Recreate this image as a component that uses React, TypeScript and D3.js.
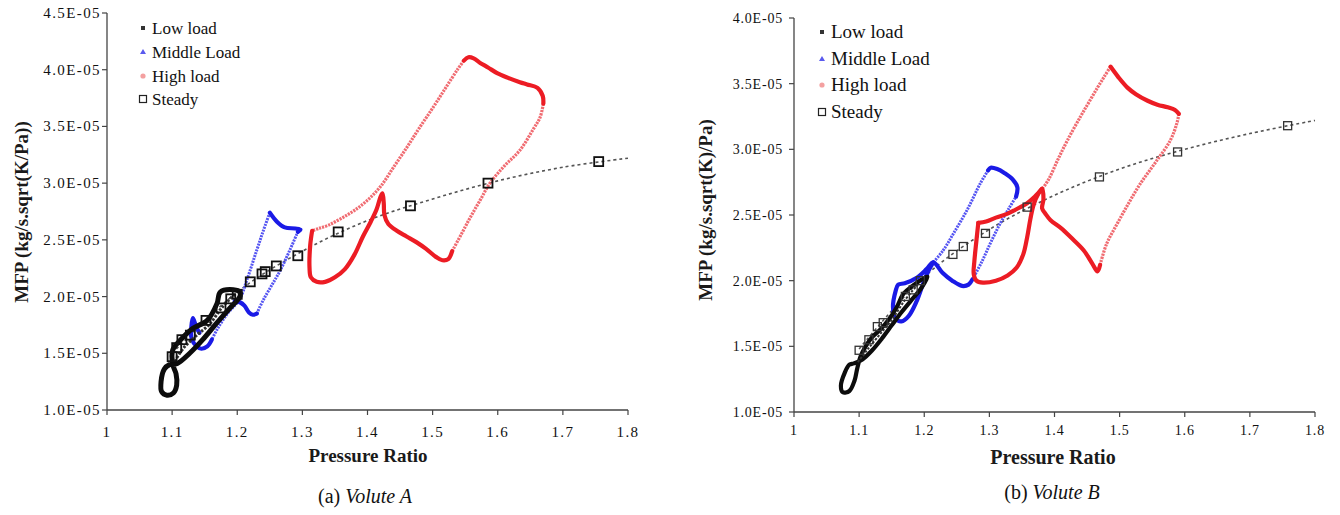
import React from "react";
import * as d3 from "d3";

type P = [number, number];

// ---------- shared axis data ----------
const X_TICKS = [1, 1.1, 1.2, 1.3, 1.4, 1.5, 1.6, 1.7, 1.8];
const Y_TICKS_A = [1.0, 1.5, 2.0, 2.5, 3.0, 3.5, 4.0, 4.5];
const Y_TICKS_B = [1.0, 1.5, 2.0, 2.5, 3.0, 3.5, 4.0];
const LEGEND_LABELS = ["Low load", "Middle Load", "High load", "Steady"];

// ---------- Volute A (MFP in units of 1E-05) ----------
const LOW_A: P[] = [
  [1.088, 1.36], [1.083, 1.25], [1.084, 1.16], [1.092, 1.13], [1.102, 1.15], [1.107, 1.22],
  [1.106, 1.32], [1.101, 1.40], [1.101, 1.53], [1.115, 1.63], [1.132, 1.72], [1.154, 1.79],
  [1.169, 1.94], [1.174, 2.04], [1.194, 2.06], [1.204, 2.04], [1.204, 2.00], [1.189, 1.90],
  [1.169, 1.77], [1.147, 1.62], [1.127, 1.50], [1.108, 1.41], [1.096, 1.40],
];
const LOW_A_INNER: P[] = [
  [1.104, 1.43], [1.118, 1.55], [1.138, 1.66], [1.158, 1.76], [1.176, 1.90], [1.196, 2.02],
];
const MID_A_SOLID_1: P[] = [
  [1.161, 1.62], [1.154, 1.56], [1.145, 1.54], [1.138, 1.56], [1.130, 1.63], [1.132, 1.81], [1.137, 1.73], [1.142, 1.68],
];
const MID_A_SOLID_2: P[] = [
  [1.196, 1.96], [1.204, 1.95], [1.211, 1.92], [1.218, 1.86], [1.224, 1.84], [1.230, 1.85],
];
const MID_A_SPARSE_1: P[] = [
  [1.230, 1.85], [1.240, 1.97], [1.253, 2.10], [1.266, 2.23], [1.280, 2.40], [1.293, 2.57],
];
const MID_A_SOLID_3: P[] = [
  [1.293, 2.57], [1.297, 2.59], [1.289, 2.60], [1.273, 2.61], [1.261, 2.66], [1.250, 2.74],
];
const MID_A_SPARSE_2: P[] = [
  [1.250, 2.74], [1.240, 2.58], [1.230, 2.41], [1.215, 2.15], [1.204, 1.98], [1.185, 1.85], [1.170, 1.72], [1.161, 1.62],
];
const HIGH_A_SOLID_1: P[] = [
  [1.315, 2.58], [1.312, 2.45], [1.311, 2.25], [1.313, 2.17], [1.322, 2.13], [1.335, 2.13], [1.350, 2.17],
  [1.365, 2.24], [1.380, 2.37], [1.393, 2.53], [1.405, 2.66], [1.414, 2.77], [1.420, 2.88], [1.423, 2.91],
  [1.425, 2.82], [1.426, 2.72], [1.432, 2.64], [1.445, 2.58], [1.460, 2.53], [1.475, 2.48], [1.490, 2.42],
  [1.505, 2.35], [1.515, 2.32], [1.524, 2.33], [1.530, 2.40],
];
const HIGH_A_SPARSE_1: P[] = [
  [1.530, 2.40], [1.545, 2.56], [1.558, 2.70], [1.573, 2.85], [1.588, 3.00], [1.610, 3.15], [1.634, 3.29],
  [1.655, 3.48], [1.665, 3.58], [1.670, 3.70],
];
const HIGH_A_SOLID_2: P[] = [
  [1.670, 3.70], [1.669, 3.77], [1.661, 3.84], [1.645, 3.87], [1.634, 3.89], [1.615, 3.93], [1.599, 3.97],
  [1.585, 4.02], [1.573, 4.06], [1.563, 4.10], [1.555, 4.11], [1.548, 4.08],
];
const HIGH_A_SPARSE_2: P[] = [
  [1.548, 4.08], [1.538, 4.00], [1.520, 3.84], [1.501, 3.67], [1.480, 3.49], [1.461, 3.32], [1.440, 3.14],
  [1.420, 2.97], [1.400, 2.85], [1.380, 2.76], [1.360, 2.69], [1.340, 2.63], [1.325, 2.60], [1.315, 2.58],
];
const STEADY_A: P[] = [
  [1.100, 1.47], [1.107, 1.55], [1.115, 1.62], [1.128, 1.66], [1.152, 1.79], [1.175, 1.90], [1.190, 1.98],
  [1.200, 2.02], [1.220, 2.13], [1.238, 2.20], [1.243, 2.22], [1.260, 2.27], [1.293, 2.36], [1.355, 2.57],
  [1.466, 2.80], [1.585, 3.00], [1.755, 3.19],
];
const TREND_A: P[] = [
  [1.10, 1.50], [1.20, 2.04], [1.30, 2.40], [1.40, 2.67], [1.50, 2.86], [1.60, 3.02], [1.70, 3.14], [1.80, 3.22],
];

// ---------- Volute B (MFP in units of 1E-05) ----------
const LOW_B: P[] = [
  [1.085, 1.36], [1.078, 1.30], [1.072, 1.20], [1.075, 1.15], [1.085, 1.16], [1.093, 1.24], [1.097, 1.33],
  [1.102, 1.42], [1.110, 1.50], [1.120, 1.57], [1.133, 1.63], [1.145, 1.70], [1.158, 1.80], [1.168, 1.90],
  [1.182, 1.96], [1.200, 2.02], [1.205, 2.03], [1.195, 1.94], [1.180, 1.85], [1.165, 1.76], [1.150, 1.66],
  [1.135, 1.56], [1.120, 1.47], [1.105, 1.40], [1.092, 1.37],
];
const LOW_B_INNER: P[] = [
  [1.098, 1.38], [1.112, 1.47], [1.130, 1.58], [1.150, 1.70], [1.170, 1.85], [1.190, 1.97],
];
const MID_B_SOLID_1: P[] = [
  [1.214, 2.14], [1.205, 2.06], [1.197, 1.96], [1.188, 1.84], [1.176, 1.73], [1.165, 1.69], [1.156, 1.71],
  [1.152, 1.80], [1.156, 1.92], [1.160, 1.97], [1.170, 1.98], [1.188, 2.02], [1.204, 2.09], [1.214, 2.14],
  [1.228, 2.06], [1.243, 2.00], [1.258, 1.96], [1.268, 1.97], [1.274, 2.01],
];
const MID_B_SPARSE_1: P[] = [
  [1.274, 2.01], [1.288, 2.14], [1.302, 2.29], [1.316, 2.43], [1.330, 2.55], [1.341, 2.64],
];
const MID_B_SOLID_2: P[] = [
  [1.341, 2.64], [1.343, 2.71], [1.336, 2.77], [1.323, 2.82], [1.312, 2.85], [1.302, 2.86], [1.298, 2.84],
];
const MID_B_SPARSE_2: P[] = [
  [1.298, 2.84], [1.286, 2.74], [1.266, 2.54], [1.245, 2.36], [1.229, 2.23], [1.214, 2.14],
];
const HIGH_B_SOLID_1: P[] = [
  [1.283, 2.44], [1.280, 2.30], [1.277, 2.15], [1.276, 2.05], [1.280, 2.00], [1.290, 1.985], [1.310, 2.00],
  [1.328, 2.04], [1.342, 2.10], [1.352, 2.20], [1.358, 2.33], [1.363, 2.47], [1.368, 2.58], [1.375, 2.66],
  [1.381, 2.70], [1.383, 2.62], [1.381, 2.55], [1.386, 2.51], [1.394, 2.46], [1.410, 2.40], [1.425, 2.33],
  [1.445, 2.23], [1.458, 2.13], [1.466, 2.07], [1.470, 2.12],
];
const HIGH_B_SPARSE_1: P[] = [
  [1.470, 2.12], [1.480, 2.28], [1.497, 2.44], [1.515, 2.60], [1.532, 2.74], [1.555, 2.90], [1.578, 3.07],
  [1.588, 3.20], [1.591, 3.27],
];
const HIGH_B_SOLID_2: P[] = [
  [1.591, 3.27], [1.585, 3.30], [1.574, 3.32], [1.558, 3.34], [1.543, 3.37], [1.525, 3.42], [1.512, 3.47],
  [1.498, 3.55], [1.486, 3.63],
];
const HIGH_B_SPARSE_2: P[] = [
  [1.486, 3.63], [1.476, 3.55], [1.466, 3.47], [1.453, 3.36], [1.440, 3.25], [1.420, 3.07], [1.405, 2.92],
  [1.392, 2.78], [1.383, 2.71],
];
const HIGH_B_SOLID_3: P[] = [
  [1.381, 2.70], [1.370, 2.64], [1.358, 2.59], [1.340, 2.54], [1.328, 2.51], [1.310, 2.48], [1.295, 2.45], [1.283, 2.44],
];
const STEADY_B: P[] = [
  [1.100, 1.47], [1.115, 1.55], [1.128, 1.65], [1.137, 1.68], [1.171, 1.88], [1.183, 1.93], [1.194, 2.00],
  [1.244, 2.20], [1.260, 2.26], [1.294, 2.36], [1.358, 2.56], [1.469, 2.79], [1.589, 2.98], [1.758, 3.18],
];
const TREND_B: P[] = [
  [1.10, 1.48], [1.20, 2.03], [1.30, 2.39], [1.40, 2.65], [1.50, 2.85], [1.60, 3.00], [1.70, 3.12], [1.80, 3.22],
];

const SERIF = "'Liberation Serif', 'Times New Roman', serif";
const BLUE = "#1a1ae6";
const BLUE_LIGHT = "#5656f2";
const RED = "#ec1c24";
const RED_LIGHT = "#f06c72";
const BLACK = "#0c0c0c";

type Layout = {
  left: number; right: number; top: number; bottom: number; yMax: number; yTicks: number[];
  tickFont: number; tickSpacing: number; yLabelX: number; xLabelY: number;
  yTitle: string; yTitleX: number; yTitleY: number; titleFont: number;
  xTitleX: number; xTitleY: number; xTitleFont: number;
  caption: string; captionItalic: string; captionX: number; captionY: number;
  legendX: number; legendY: number[]; legendFont: number;
  squareSize: number; squareStroke: string; squareWidth: number; lowWidth: number; innerWidth: number;
};

type Series = {
  low: P[]; lowInner: P[]; solidBlue: P[][]; sparseBlue: P[][]; solidRed: P[][]; sparseRed: P[][]; steady: P[]; trend: P[];
};

function Panel({ L, S }: { L: Layout; S: Series }) {
  const x = d3.scaleLinear().domain([1, 1.8]).range([L.left, L.right]);
  const y = d3.scaleLinear().domain([1, L.yMax]).range([L.bottom, L.top]);
  const open = d3.line<P>().x((d) => x(d[0])).y((d) => y(d[1])).curve(d3.curveCatmullRom.alpha(0.5));
  const closed = d3.line<P>().x((d) => x(d[0])).y((d) => y(d[1])).curve(d3.curveCatmullRomClosed.alpha(0.5));
  const lm = L.legendX;
  const half = L.squareSize / 2;
  return (
    <g>
      {/* axes */}
      <line x1={L.left} x2={L.left} y1={y(L.yMax)} y2={L.bottom} stroke="#444" strokeWidth={1.3} />
      <line x1={L.left} x2={L.right} y1={L.bottom} y2={L.bottom} stroke="#444" strokeWidth={1.3} />
      {L.yTicks.map((t) => (
        <g key={"y" + t}>
          <line x1={L.left - 5} x2={L.left} y1={y(t)} y2={y(t)} stroke="#444" strokeWidth={1.2} />
          <text x={L.yLabelX} y={y(t) + 5} textAnchor="end" fontFamily={SERIF} fontSize={L.tickFont}
            letterSpacing={L.tickSpacing} fill="#111">{t.toFixed(1) + "E-05"}</text>
        </g>
      ))}
      {X_TICKS.map((t) => (
        <g key={"x" + t}>
          <line x1={x(t)} x2={x(t)} y1={L.bottom} y2={L.bottom + 5} stroke="#444" strokeWidth={1.2} />
          <text x={x(t)} y={L.xLabelY} textAnchor="middle" fontFamily={SERIF} fontSize={L.tickFont}
            letterSpacing={L.tickSpacing} fill="#111">{String(+t.toFixed(1))}</text>
        </g>
      ))}
      <text transform={`translate(${L.yTitleX},${L.yTitleY}) rotate(-90)`} textAnchor="middle" fontFamily={SERIF}
        fontWeight="bold" fontSize={L.titleFont} fill="#1a1a1a">{L.yTitle}</text>
      <text x={L.xTitleX} y={L.xTitleY} textAnchor="middle" fontFamily={SERIF} fontWeight="bold"
        fontSize={L.xTitleFont} fill="#1a1a1a">Pressure Ratio</text>
      <text x={L.captionX} y={L.captionY} textAnchor="middle" fontFamily={SERIF} fontSize={20} fill="#111">
        {L.caption}<tspan fontStyle="italic">{L.captionItalic}</tspan>
      </text>

      {/* steady trend */}
      <path d={open(S.trend) || ""} fill="none" stroke="#555" strokeWidth={1.6} strokeDasharray="3 3" />

      {/* middle load */}
      {S.sparseBlue.map((s, i) => (
        <path key={"bs" + i} d={open(s) || ""} fill="none" stroke={BLUE_LIGHT} strokeWidth={3} strokeDasharray="2 1" />
      ))}
      {S.solidBlue.map((s, i) => (
        <path key={"bb" + i} d={open(s) || ""} fill="none" stroke={BLUE} strokeWidth={4.2} strokeLinejoin="round" strokeLinecap="round" />
      ))}
      {/* low load */}
      <path d={closed(S.low) || ""} fill="none" stroke={BLACK} strokeWidth={L.lowWidth} strokeLinejoin="round" />
      <path d={open(S.lowInner) || ""} fill="none" stroke="#333" strokeWidth={L.innerWidth} strokeDasharray="2.5 1.5" />
      {/* high load */}
      {S.sparseRed.map((s, i) => (
        <path key={"rs" + i} d={open(s) || ""} fill="none" stroke={RED_LIGHT} strokeWidth={3.2} strokeDasharray="2.2 1" />
      ))}
      {S.solidRed.map((s, i) => (
        <path key={"rr" + i} d={open(s) || ""} fill="none" stroke={RED} strokeWidth={4.2} strokeLinejoin="round" strokeLinecap="round" />
      ))}
      {/* steady points */}
      {S.steady.map((d, i) => (
        <rect key={"s" + i} x={x(d[0]) - half} y={y(d[1]) - half} width={L.squareSize} height={L.squareSize}
          fill="none" stroke={L.squareStroke} strokeWidth={L.squareWidth} />
      ))}

      {/* legend */}
      {LEGEND_LABELS.map((lab, i) => (
        <text key={"l" + i} x={lm + 9} y={L.legendY[i] + 5.5} fontFamily={SERIF} fontSize={L.legendFont} fill="#111">{lab}</text>
      ))}
      <rect x={lm - 2} y={L.legendY[0] - 2} width={4} height={4} fill="#333" />
      <path d={`M${lm},${L.legendY[1] - 3}L${lm + 3},${L.legendY[1] + 2}L${lm - 3},${L.legendY[1] + 2}Z`} fill="#5a5aee" />
      <circle cx={lm} cy={L.legendY[2]} r={2.6} fill="#f4a0a0" />
      <rect x={lm - 3.5} y={L.legendY[3] - 3.5} width={7} height={7} fill="none" stroke="#222" strokeWidth={1.2} />
    </g>
  );
}

const LAYOUT_A: Layout = {
  left: 107, right: 628, top: 13, bottom: 410, yMax: 4.5, yTicks: Y_TICKS_A,
  tickFont: 15, tickSpacing: 1.4, yLabelX: 101, xLabelY: 437,
  yTitle: "MFP (kg/s.sqrt(K/Pa))", yTitleX: 28, yTitleY: 212, titleFont: 19,
  xTitleX: 368, xTitleY: 462, xTitleFont: 19,
  caption: "(a) ", captionItalic: "Volute A", captionX: 365, captionY: 503,
  legendX: 143, legendY: [28, 52, 76, 99], legendFont: 17,
  squareSize: 9, squareStroke: "#111", squareWidth: 1.8, lowWidth: 5, innerWidth: 3,
};
const LAYOUT_B: Layout = {
  left: 794, right: 1315, top: 18, bottom: 412, yMax: 4.0, yTicks: Y_TICKS_B,
  tickFont: 14, tickSpacing: 0.8, yLabelX: 783, xLabelY: 435,
  yTitle: "MFP (kg/s.sqrt(K)/Pa)", yTitleX: 712, yTitleY: 210, titleFont: 19,
  xTitleX: 1053, xTitleY: 464, xTitleFont: 20,
  caption: "(b) ", captionItalic: "Volute B", captionX: 1052, captionY: 499,
  legendX: 822, legendY: [32, 59, 85, 112], legendFont: 19,
  squareSize: 8, squareStroke: "#333", squareWidth: 1.3, lowWidth: 4.2, innerWidth: 2,
};

const SERIES_A: Series = {
  low: LOW_A, lowInner: LOW_A_INNER,
  solidBlue: [MID_A_SOLID_1, MID_A_SOLID_2, MID_A_SOLID_3],
  sparseBlue: [MID_A_SPARSE_1, MID_A_SPARSE_2],
  solidRed: [HIGH_A_SOLID_1, HIGH_A_SOLID_2],
  sparseRed: [HIGH_A_SPARSE_1, HIGH_A_SPARSE_2],
  steady: STEADY_A, trend: TREND_A,
};
const SERIES_B: Series = {
  low: LOW_B, lowInner: LOW_B_INNER,
  solidBlue: [MID_B_SOLID_1, MID_B_SOLID_2],
  sparseBlue: [MID_B_SPARSE_1, MID_B_SPARSE_2],
  solidRed: [HIGH_B_SOLID_1, HIGH_B_SOLID_2, HIGH_B_SOLID_3],
  sparseRed: [HIGH_B_SPARSE_1, HIGH_B_SPARSE_2],
  steady: STEADY_B, trend: TREND_B,
};

export default function App() {
  return (
    <svg width={1340} height={515} viewBox="0 0 1340 515"
      style={{ position: "absolute", left: 0, top: 0, background: "#fff" }}>
      <rect x={0} y={0} width={1340} height={515} fill="#fff" />
      <Panel L={LAYOUT_A} S={SERIES_A} />
      <Panel L={LAYOUT_B} S={SERIES_B} />
    </svg>
  );
}
